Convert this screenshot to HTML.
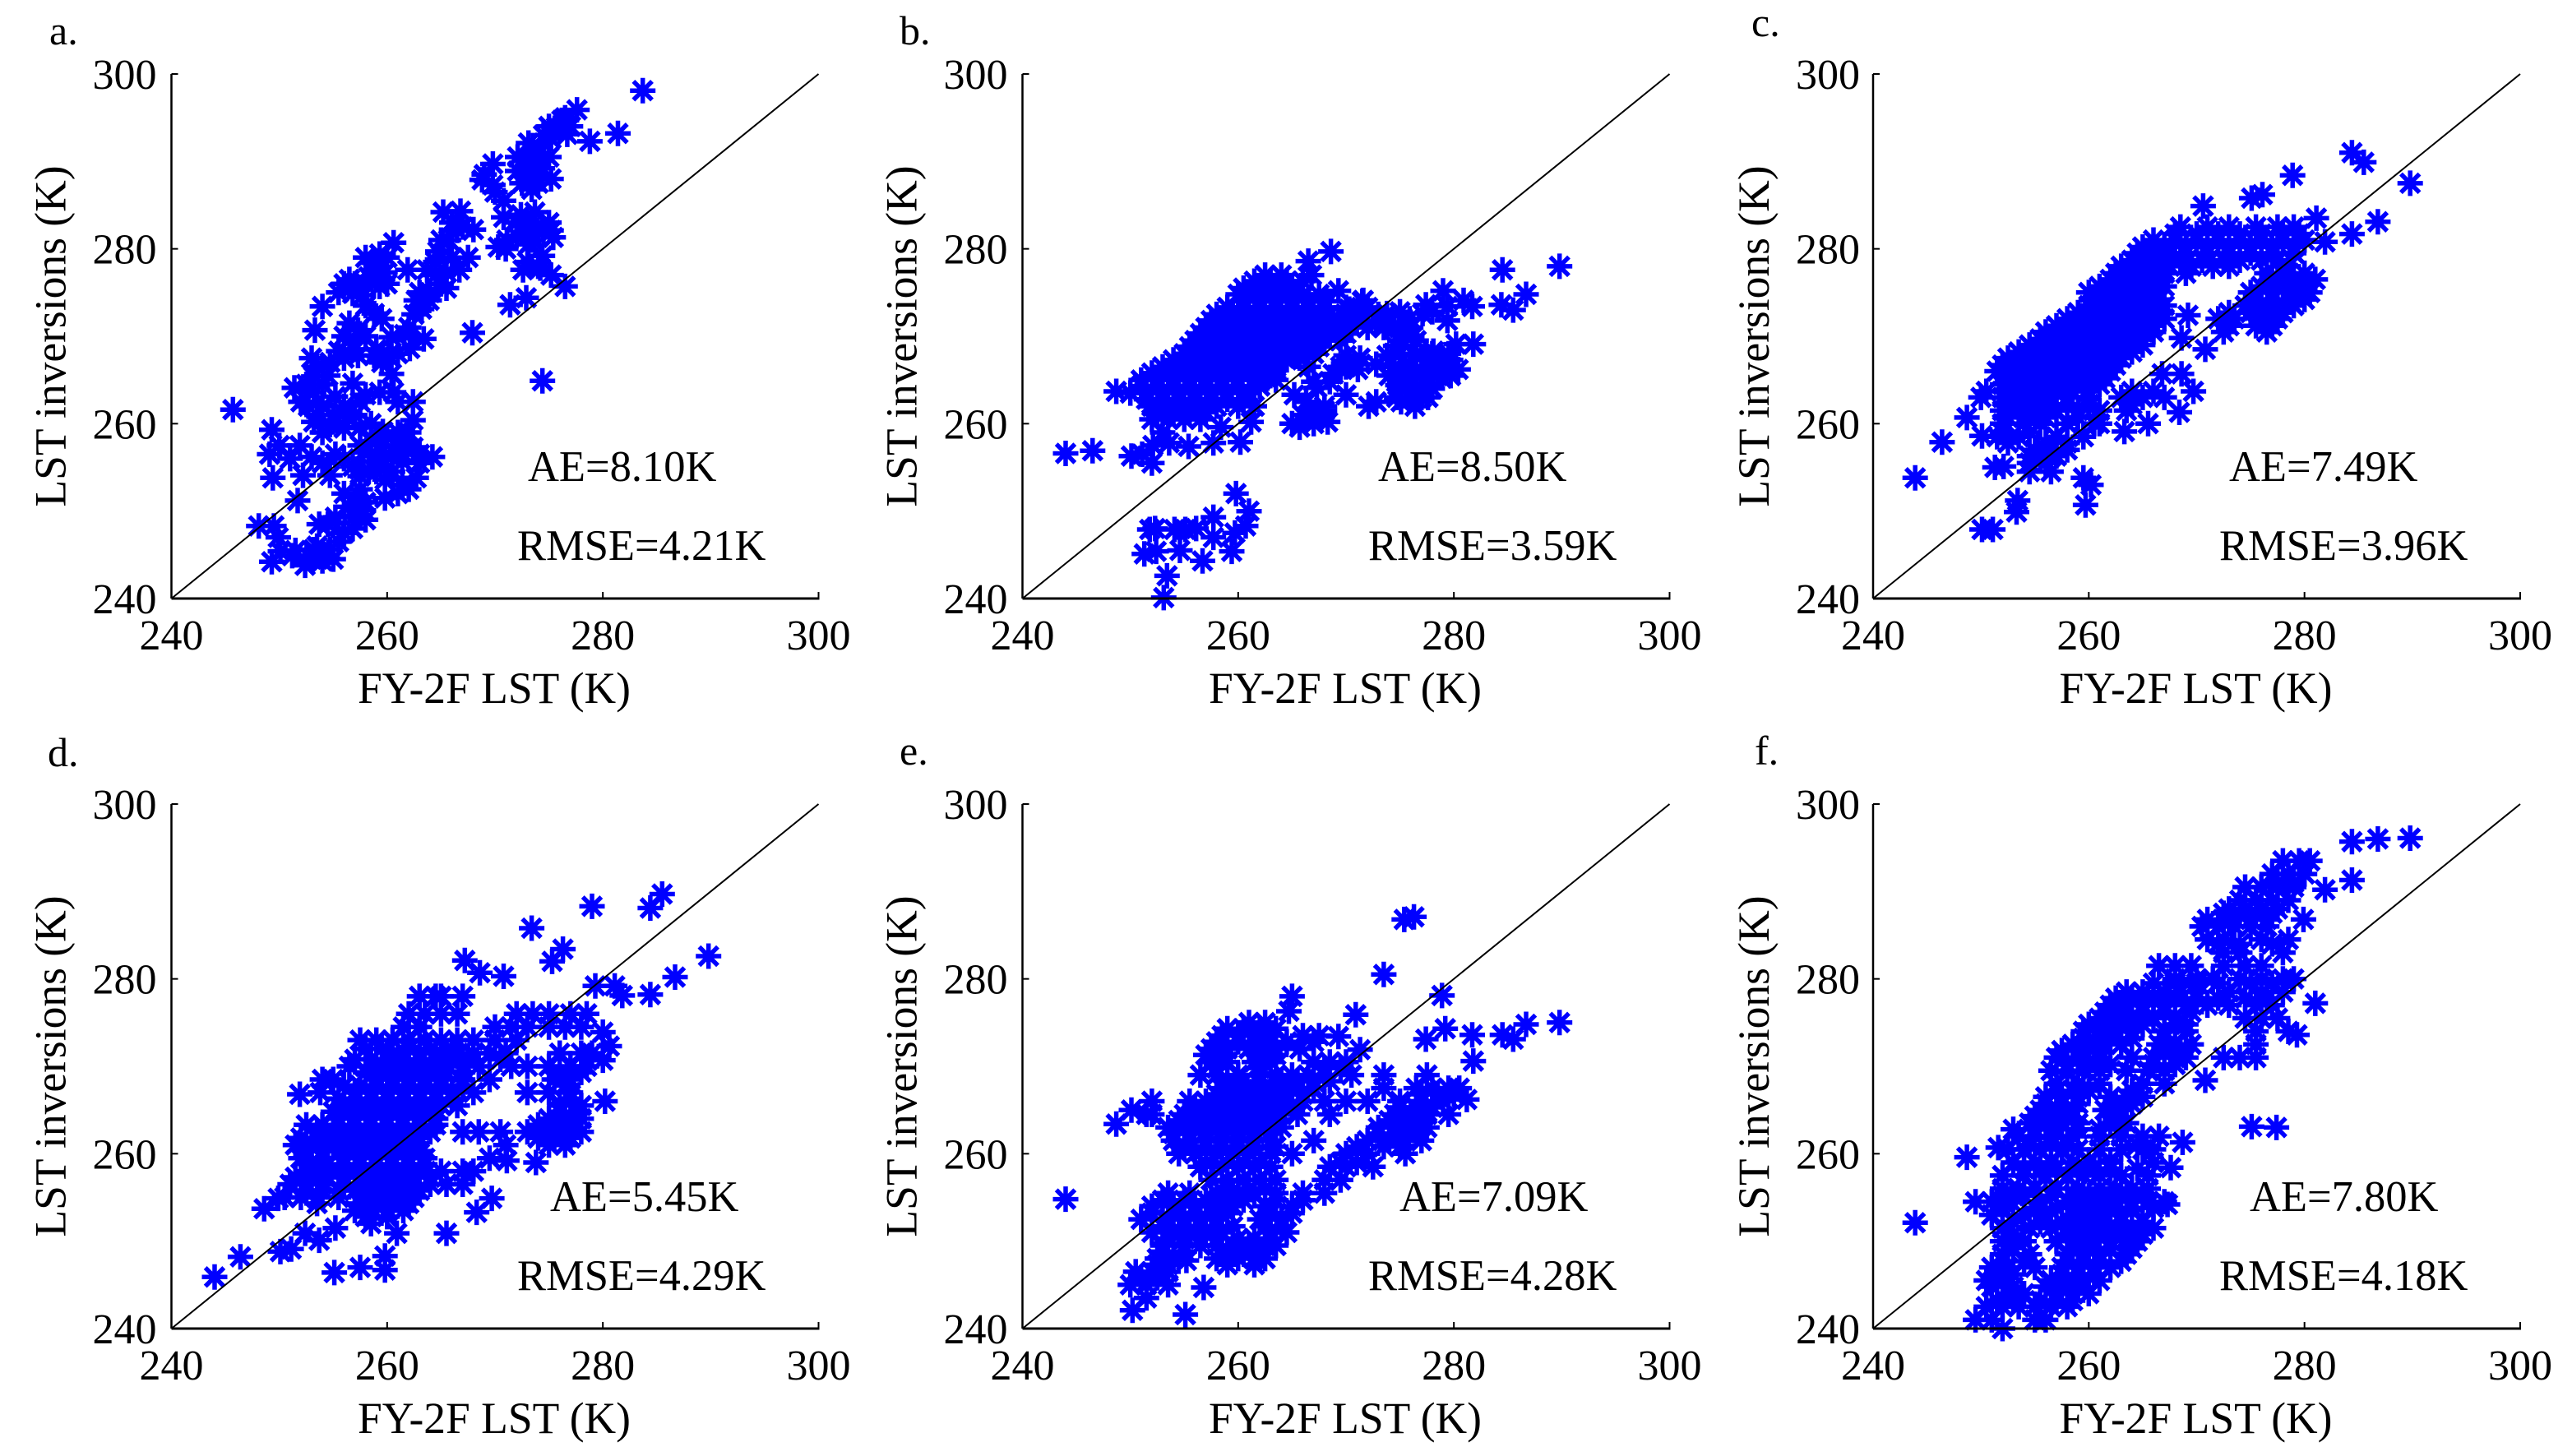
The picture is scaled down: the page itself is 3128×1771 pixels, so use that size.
<!DOCTYPE html>
<html lang="en">
<head>
<meta charset="utf-8">
<title>LST inversions vs FY-2F LST</title>
<style>
html,body{margin:0;padding:0;background:#fff;width:3128px;height:1771px;overflow:hidden}
svg{display:block}
text{font-family:"Liberation Serif","Times New Roman",serif;fill:#000}
</style>
</head>
<body>
<svg id="figure" xmlns="http://www.w3.org/2000/svg" width="3128" height="1771" viewBox="0 0 3128 1771"></svg>
<script>
const xTickValues=[240,260,280,300];
const yTickValues=[240,260,280,300];
const xAxisTitle="FY-2F LST (K)";
const yAxisTitle="LST inversions (K)";

const aPoints=[[283.7,298.1],[281.4,293.2],[278.8,292.3],[245.7,261.6],[274.4,264.9],[267.9,270.4],[276.5,275.7],[271.4,273.6],[272.9,274.4],[277.6,295.9],[276.2,294.7],[275.7,293.9],[276.7,293.1],[275.2,292.6],[274.2,291.6],[273.1,292.1],[272.1,290.5],[273.4,290],[274.4,289.2],[275.2,288],[273.1,288.1],[272.1,288.9],[273.4,286.8],[268.8,287.9],[269.8,289.7],[269.8,287.3],[270.8,285.5],[265.2,284.2],[266.8,284.3],[270.8,283.6],[272.4,283.9],[273.7,284.2],[268,282.2],[266.5,282.1],[265.7,281],[264.7,279.7],[275.2,282.1],[275.4,281.3],[273.9,282.1],[272.6,282.6],[270.3,280.2],[271.1,281],[273.1,280.5],[274.4,279.2],[274.2,277.8],[272.6,277.6],[275.2,277],[267.5,279],[266.7,277.6],[265.5,277.3],[265.5,275.5],[263.7,277.6],[261.9,277.6],[262.7,274.1],[263.9,274.1],[263.2,273.1],[260.6,280.7],[259.3,279.4],[258.8,278.4],[259.8,277.3],[258.3,276.8],[259.3,275.7],[256,276],[256.8,274.9],[257.8,274.7],[254,273.4],[258.8,272.6],[253.3,270.7],[257.3,270.7],[256.5,269.7],[260.4,269.9],[261.6,270.2],[263.4,269.7],[262.1,268.6],[255.5,268.3],[257.3,267.8],[258.8,267.8],[260.1,267.8],[253.5,266.5],[254.7,267],[260.4,265.7],[253.2,265.4],[251.4,264.1],[256.8,264.6],[253.2,263.6],[255.2,263.1],[258,263.3],[259.3,263.6],[260.6,263.6],[262.4,262.5],[252.7,262],[262.4,260.4],[253.2,260.2],[254.7,259.9],[256.3,260.7],[257.5,259.6],[259.6,259.1],[249.3,259.3],[249.1,256.5],[251.9,257.5],[253,256.2],[249.4,253.8],[252.2,254.1],[254.7,254.1],[255.2,256.5],[256.8,255.1],[257.8,256.7],[259.3,257.5],[260.9,257.5],[262.4,257.3],[264.2,256.2],[258.8,255.7],[260.4,256.2],[261.4,255.7],[258.3,254.6],[259.8,253.6],[262.7,253.8],[261.4,253],[251.7,251.2],[256,252],[257.5,252.5],[259.8,251.5],[257.8,250.1],[255.2,249.3],[253.7,248.5],[256.8,248],[248.1,248.3],[249.5,248.3],[249.9,247],[250.1,245.4],[249.3,244.2],[251.2,244.9],[252.4,243.8],[253.2,245.6],[254.7,245.6],[254,244.3],[275,294],[274.5,293],[273.5,291],[274,290],[273,289.5],[272.5,287.5],[274,287.5],[275,290.5],[276.5,295],[277,294],[269,288.5],[270,286.5],[272,283],[273,283],[274.5,282],[275,283],[272,281.5],[273,278.5],[274,278],[271,280],[273.5,281],[266,283],[267,282.5],[265,281],[264.5,278.5],[266,279],[265,276],[264.5,277],[263,275],[264,275],[262.5,272.5],[258,279],[259,278],[260,279],[257,276],[258,276],[255.5,275],[256.5,276.5],[260,276],[258,273.5],[259.5,272],[256.5,271.5],[256,270],[258,270],[262,271],[257,268.5],[259,268.5],[256,267.5],[259.5,267],[261,268],[254.5,265.5],[253,267.5],[252.5,264.5],[254,264.5],[252,262.5],[254,262],[253.5,261],[256,262],[257.5,262.5],[261,262.5],[255,261],[257,261],[258.5,260],[254,259],[256,259.5],[261,259],[262,259],[250,257.5],[251,256],[254,255.5],[256,256],[257.5,257.5],[258.5,258],[260,258.5],[261.5,258],[263,256.5],[259.5,256],[261.5,256.5],[263,255.5],[257.5,254],[259,254.5],[260.5,254.5],[261,252],[262,252.5],[256.5,250.5],[257,251],[258,251],[258,249],[257,249.5],[254.5,248.5],[256,247.5],[255.5,246.5],[253,244.5],[251.5,245.5],[253.5,246],[255,244.5]];
const aRows=[];

const bPoints=[[244,256.6],[246.5,256.9],[248.7,263.7],[289.8,278],[286.7,274.8],[284.5,277.6],[284.4,273.6],[285.5,273],[268.6,279.7],[269.3,275.2],[266.5,278.6],[266.8,277],[281.8,269.1],[281.7,273.4],[280.9,274.1],[279,275.2],[279.4,273.4],[279.4,271.8],[257.7,257.8],[258.4,259.6],[260.2,257.9],[261.2,260.2],[255.4,257.4],[253.6,257.8],[252.1,257.5],[250.1,256.3],[251.1,256.5],[252,255.5],[259.8,252],[261,250],[260.7,248.3],[259.7,247.5],[259.4,245.4],[257.7,249.3],[257.7,247],[256.1,248],[255.1,247.9],[254.1,247.9],[252.3,248],[251.8,247.9],[251.3,245.1],[252.4,245.4],[254.6,245.5],[256.7,244.3],[253.4,242.6],[253.1,240.1],[273.8,272.6],[272.8,271.8],[271.6,274.1],[270.3,273.1],[269.3,271.5],[277.4,273.6],[277.1,272.6],[275.9,272],[275.1,271],[276.1,269.9],[274.6,268.9],[270,267.8],[271.3,267.5],[268.8,265.7],[271.1,266.2],[272.8,266.8],[273.8,267.8],[280.2,269.1],[278.1,268.3],[279.7,267.3],[280.4,266.2],[278.4,266.8],[276.4,267.8],[275.4,266.8],[277,266.2],[278.9,265.2],[275.9,265.2],[277.4,264.6],[274.8,264.4],[276.1,263.6],[277.6,263],[276.4,262],[275.1,262.5],[270,263.3],[267.3,264.1],[265.2,263.3],[266.3,262.5],[272.1,262],[272.8,262.5],[268,262],[265.7,259.6],[266.8,261],[268.3,260.2],[268,261.5],[262.7,265.2],[263.5,266.2],[265.7,267.5]];
const bRows=[[277,[262.5,264]],[275.5,[260.5,262,263.5,265]],[274,[260.5,262,263.5,265,266.5,268,271.5]],[272.5,[258,259.5,261,262.5,264,265.5,267,268.5,270,271.5,273]],[271,[257,258.5,260,261.5,263,264.5,266,267.5,269,270.5,272,273.5]],[269.5,[256,257.5,259,260.5,262,263.5,265,266.5,268,269.5]],[268,[255,256.5,258,259.5,261,262.5,264,265.5,267]],[266.5,[253,254.5,256,257.5,259,260.5,262,263.5,266.5]],[265,[251,252.5,254,255.5,257,258.5,260,261.5,263.5]],[263.5,[250,251.5,253,254.5,256,257.5,259,261]],[262,[252,253.5,255,256.5,258,260,261.5]],[260.5,[252,253.5,255,256.5]],[259,[253]],[276.3,[261.5,263,264.5,266]],[274.8,[260,261.5,263,264.5,266,267.5]],[273.3,[259,260.5,262,263.5,265,266.5,268,270,272]],[271.8,[257.5,259,260.5,262,263.5,265,266.5,268,270,271]],[270.3,[256.5,258,259.5,261,262.5,264,265.5,267,268.5,270]],[268.8,[255.5,257,258.5,260,261.5,263,264.5,266,267.5]],[267.3,[254,255.5,257,258.5,260,261.5,263,264.5]],[265.8,[252,253.5,255,256.5,258,259.5,261,262.5]],[264.3,[251,252.5,254,255.5,257,258.5,260,262]],[262.8,[251.5,253,254.5,256,257.5,259,260.5]],[261.3,[252.5,254,255.5,257]],[268,[275,276.5,278,279.5]],[266.5,[274.5,276,277.5,279]],[265.5,[274,275.5,277,278.5,279.7]],[264,[275,276.5,278]],[263,[274.7,277]],[271,[274.5,276]],[272.8,[278,275]],[269.5,[275,276.5]],[261,[266,267.5]],[260,[265,267]],[264.8,[267,268.5]],[266.5,[270,269.5]]];

const cPoints=[[243.9,253.8],[246.4,257.9],[248.7,260.7],[250.1,258.6],[250.1,247.9],[251.1,247.9],[253.3,249.9],[253.4,251.2],[251.3,255],[252.1,255.1],[259.5,253.8],[260.2,253],[259.7,250.7],[284.4,291],[285.5,289.9],[289.8,287.5],[278.9,288.4],[276.1,286.2],[275.1,285.8],[270.6,284.9],[286.8,283.1],[284.4,281.7],[281.1,283.5],[281.9,280.8],[269.2,272.4],[268.6,269.8],[270.8,268.5],[269.7,263.7],[268.4,261.3],[265.5,260],[263.3,259.1],[268.6,265.7],[266.8,265.7]];
const cRows=[[282.5,[268.5,271,273,275.5,277.5,279]],[281,[266,268,270,272,274,276,278,280]],[279.5,[264.5,266,267.5,269,271,273,275,277,279]],[278,[263,264.5,266,267.5,269.5,271.5,273,278.5]],[276.5,[262,263.5,265,266.5,277,279,281]],[275,[260,261.5,263,264.5,266,275,277,279,280.5]],[273.5,[260,261.5,263,264.5,266,267,274.5,276,277.5,279]],[272,[258,259.5,261,262.5,264,265.5,267,272,273.5,276,277.5]],[270.5,[256,257.5,259,260.5,262,263.5,265,266,272.5,276.5]],[269,[254.5,256,257.5,259,260.5,262,263.5,265]],[267.5,[252.5,254,255.5,257,258.5,260,261.5,263]],[266,[251.5,253,254.5,256,257.5,259,260.5,262]],[264.5,[252,253.5,255,256.5,258,259.5,261]],[263,[250,252,253.5,255,256.5,258,260,263,265,267]],[261.5,[252,253.5,255,257,259,261,263.5]],[260,[252,254,255.5,258,260.5,261]],[258.5,[251.5,253.5,257,259.5]],[257,[255,256.5,258]],[255.5,[254.5,256]],[254.5,[254.5,256.5]],[280.2,[265,267,269,271,273,275,277,279]],[281.7,[268,270,272,274,276,278,279.5]],[278.7,[264,265.5,267,268.5,270.5,272.5,274,276,277.5]],[277.2,[262.5,264,265.5,267,269,276.5,278,280]],[275.7,[261,262.5,264,265.5,267,276,278,280]],[274.2,[260.5,262,263.5,265,266.5,275.5,277,278.5,280]],[272.7,[259,260.5,262,263.5,265,266.5,273,275,276.5,278]],[271.2,[257,258.5,260,261.5,263,264.5,266,273,275.5,277]],[269.7,[255.5,257,258.5,260,261.5,263,264.5]],[268.2,[253.5,255,256.5,258,259.5,261,262.5,264]],[266.7,[252,253.5,255,256.5,258,259.5,261,262.5]],[265.2,[252.5,254,255.5,257,258.5,260,261.5]],[263.7,[250.5,252.5,254,255.5,257,258.5,260,264,266]],[262.2,[252.5,254,256,258,260,264]],[260.7,[252.5,254.5,256,259]],[259,[252,254.5]],[257.8,[252.5,256,258]],[256.3,[254.5,255.5,257]]];

const dPoints=[[244,245.9],[246.4,248.2],[248.6,253.7],[251.9,266.8],[289.8,282.6],[286.7,280.2],[284.4,278.2],[284.4,288.1],[285.5,289.7],[279,288.3],[273.4,285.8],[276.3,283.4],[275.3,282],[267.2,282.1],[268.6,280.7],[270.8,280.3],[281.1,279.2],[281.8,278.1],[279.3,279.2],[280.2,266],[280,273.9],[280.6,272.3],[280,270.7],[273.8,259],[271.1,259.2],[269.7,254.9],[268.3,253.3],[265.5,250.9],[257.5,247],[255.1,246.4],[259.8,246.7],[259.8,248.3],[260.9,250.9],[255.2,251.5],[250.1,248.8],[251.1,249.1],[252.4,250.9],[253.7,250.1],[249.9,254.9]];
const dRows=[[278,[263,264.5,265,267]],[276,[262,263.5,265,266.5,272,273.5,275,277,278.5]],[274.5,[261.5,263,270,271.5,273,275,276.5,278]],[273,[257.5,259,260.5,262,263.5,265,266.5,268,270,272]],[271.5,[261,263,264.5,266,268,269.5,271,276,278,279]],[270,[256.5,259,260.5,262,263.5,265,267,268.5,271.5,273,275,277,278.5]],[268.5,[254,255,259,260.5,262,263.5,265,267,269.5,275.5,277]],[267,[253.8,257,258.5,260,261.5,263,264.5,266,268,273,275,277]],[265.5,[256,257.5,259,260.5,262,263.5,265,266.5,276,278]],[264,[255.5,257,258.5,260,261.5,263,264.5,275,276.5,278]],[262.5,[253.5,255,256.5,258,259.5,261,262.5,264,267,268.5,270.5,273,275,276.5,278]],[261,[251.5,253,255,256.5,258,259.5,261,262.5,271,275,276.5]],[259.5,[252,254,256,257.5,259,260.5,262,263.5,269.5]],[258,[252.5,254,255.5,257,258.5,260,261.5,263,265,267,268]],[256.5,[251,252.5,254,256,258,259.5,261,262.5,264,265.5,267]],[255,[250.5,252,253.5,255.5,258,259.5,261,262.5]],[253.5,[257,258.5,260,261.5]],[252,[258.5]],[272,[258,259.5,262,264,266]],[270.8,[257,258.5,260,261.5,263,264.5,266,267.5,270.5]],[269.3,[258,259.5,261,262.5,264,265.5,267,276,278]],[267.8,[256,257.5,259,260.5,262,263.5,265,267,276.5]],[266.3,[255.5,257,258.5,260,261.5,263,264.5,266,277]],[264.8,[255,256.5,258,259.5,261,262.5,264,276,277.5]],[263.3,[252.5,254,255.5,257,258.5,260,261.5,263,264.5,274,275.5,277]],[261.8,[252,254,255.5,257,258.5,260,261.5,263,274,275.5,277]],[260.3,[252.5,254,255.5,257,258.5,260,261.5,263]],[258.8,[253,254.5,256,257.5,259,260.5,262,263.5]],[257.3,[251.5,253,254.5,256,257.5,259,260.5,262,264]],[255.8,[252.5,254,255.5,257,258.5,260,261.5,263]],[254.3,[253.5,257.5,259,260.5,262]],[252.8,[258,260]]];

const ePoints=[[244,254.8],[248.7,263.4],[250.1,265],[289.8,275],[286.7,274.8],[284.5,273.6],[285.5,273.1],[281.7,273.6],[281.8,270.6],[281.2,266.2],[278.9,278.1],[279.2,274.3],[277.4,273.1],[273.5,280.5],[275.4,286.8],[276.3,287.1],[270.9,275.9],[269.3,273.4],[271.3,271.9],[265,278],[264.7,276.3],[265.7,272],[250.2,242.1],[255.1,241.6],[256.8,244.7],[255.2,247.8]];
const eRows=[[275,[261,262.5]],[273.5,[258.5,260,261.5,263,266,267.5]],[272,[257.5,259,261,262.5,263.5]],[270.5,[257.5,259,261.5,263,267,268.5,270]],[269,[256.5,258,260,262,263.5,265,266.5,268,270.5,273.5,277.5]],[267.5,[258.5,260,261.5,263,265,267,273.5,276.5,278,279.5,280.5]],[266,[252,255.5,257,258.5,260,261.5,263,264.5,266,268,270,272,275,277,279]],[264.5,[251.5,252,255,256.5,258,259.5,261,262.5,264,265.5,268.5,274.5,276,277.5,279.5]],[263,[253.5,255,256.5,258,259.5,261,262.5,264,273,274.5,276,277.5]],[261.5,[254,255.5,257,258.5,260,261.5,263,267,272,274,275.5,277]],[260,[254.5,256,258,259.5,261,263,265,270,272,275.5]],[258.5,[256.5,258.5,260,261.5,263,268.5,270,272.5]],[257,[257.5,259,260.5,262,263.5,268,269.5]],[255.5,[253.5,255.5,258,260,261.5,263.5,266,268]],[254,[252,254,256,258,259.5,262.5,265]],[252.5,[251,253.5,255,256.5,258,264,262]],[251,[252,254,255.5,257,258.5,263,264.5]],[249.5,[253,255,256.5,258,259.5,261,262.5,263.5]],[248,[252.5,254,258,260,261.5,262.5]],[246.5,[250.5,252,253.5]],[245,[250,251.5,253.5]],[243.5,[251.5]],[274.3,[259,260.5,262,263.5]],[272.8,[258,260,262,264.5,267]],[271.3,[257,258.5,262,263.5]],[269.8,[258,262,268,269.5]],[268.3,[259,260.5,262,264,265.5,267,268.5]],[266.8,[258,259.5,261,262.5,264,266,277,278.5,280]],[265.3,[256,257.5,259,260.5,262,263.5,265,275,276.5,278]],[263.8,[254.5,256,257.5,259,260.5,262,263.5,274,275.5,277]],[262.3,[254,255.5,257,258.5,260,261.5,263,273,275,276.5]],[260.8,[255,257,258.5,260,261.5,263.5,271,273.5,275]],[259,[257,259,260.5,262,269.5,271]],[256,[259,261,262.5]],[254.7,[253,255,257,259,260.5,263.5,266]],[253.2,[252,254.5,256,257.5,259,263,265]],[251.7,[253,255,256.5,258,259.5,262.5,264]],[250.3,[253.5,255,256.5,258,260,261.5,263]],[248.8,[253,255,259,260.5,262]],[247.3,[252.5,253.5,259,261.5]],[245.8,[251,252.5]]];

const fPoints=[[243.9,252.1],[248.7,259.6],[251.6,260.7],[284.4,295.7],[286.8,296],[289.8,296.1],[284.4,291.3],[281.9,290.2],[279.9,286.8],[281,277.2],[279.3,273.6],[275.1,263.1],[277.4,263],[268.7,261.3],[267.6,258.4],[267.3,254.2],[270.8,268.4]];
const fRows=[[293.5,[278,279.5,280.5]],[292,[277,278.5,280]],[290.5,[274.5,276,277.5,279]],[289,[274,275.5,277,278.5]],[287.5,[272.5,274,275.5,277]],[286,[270.5,272,273.5,275,276.5]],[284.5,[271,272.5,276,278.5]],[283,[272.5,274,278]],[281.5,[266.5,268,269.5,272.5,274.5,276]],[280,[268,270,271.5,274,276,278,279]],[278.5,[263.5,265,267,268.5,270,273,276,278]],[277,[262,263.5,265,267,269,271,273,275.5,277]],[275.5,[261,262.5,264,266,268,274.5,276,277.5]],[274,[259.5,261,262.5,264,267,269,275.5,278.5]],[272.5,[258.5,260,261,263,266.5,268,269.5,275.5]],[271,[257,259,261,264,266,268,269,272.5,274,275.5]],[269.5,[256.5,258,259.5,261,263.5,265.5,267]],[268,[257,259,261,265,267]],[266.5,[256,257.5,259,262,263.5,265]],[265,[255.5,257,258.5,261.5,263]],[263.5,[254.5,256,257.5,259,262,263.5]],[262,[253.5,255,256.5,258.5,261,263,265,266.5]],[260.5,[252.5,254,255.5,257.5,259,261,263,265,266]],[259,[253,255,256.5,258.5,260,262,266]],[257.5,[252,254,256,258,259.5,261,263,265.5]],[256,[252,253.5,255,257,259,261,262.5,264,265.5]],[254.5,[249.5,251,252,255.5,258,259.5,261,262.5,264,265.5,267]],[253,[251,254,256,258.5,260,261.5,263]],[251.5,[252,254.5,256.5,258.5,260,262,264,266]],[250,[252,254,257,259,260.5,262,263.5,264.5]],[248.5,[252,254.5,258,259.5,261,263.5]],[247,[251,252.5,255,257.5,259,260.5,262]],[245.5,[250.5,252,256.5,258,259.5,261]],[244,[252.5,254,257,258.5,260]],[242.5,[250.5,252,253.5,255,256.5,258]],[241,[249.5,251,255,256]],[240,[252]],[291,[277.5,279]],[288,[273,274.5,276,277.5]],[286.8,[271,273,275,276.5]],[284,[272,274,277]],[279.5,[266,268,270,272,275,277]],[277.8,[262.5,264,266,268,270,272,274.5,276.5]],[276.2,[261.5,263,265,267,269.5]],[274.8,[260,261.5,263,265,268,269]],[273.2,[259.5,261,262,264,267]],[271.8,[257.5,259.5,261,267,268.5]],[270.2,[258,260,262,266,268]],[267.2,[257,258.5,260,264]],[265.7,[256,257.5,259,262.5,264]],[264.3,[255,256.5,258,262.5]],[262.8,[253,255,257,259,261,263]],[261,[254.5,256.5,258,264.5]],[258.3,[254,255.5,257,259,260.5,262,264.5]],[255.2,[252,253,254,256.5,258.5,260,262,263.5,265]],[253.8,[252,255,257,259,260.5,262,264,266]],[252.2,[253,255.5,257.5,259.5,261,263,265]],[250.8,[253,258,259.5,261,263,265]],[249.2,[253,258.5,260,262,264]],[247.7,[252,254,258,259.5,261,263]],[246.2,[251.5,253,257.5,259,260.5]],[244.8,[251,253,256,257.5,259]],[243.2,[251.5,253,255.5,257,258.5]]];

const panels=[
 {id:"a",label:"a.",ae:"AE=8.10K",rmse:"RMSE=4.21K",pts:aPoints,rows:aRows,left:208.5,bottom:728,labelX:60,labelY:54,aeX:642,rmseX:629,yTitleGap:129,yTickGap:18},
 {id:"b",label:"b.",ae:"AE=8.50K",rmse:"RMSE=3.59K",pts:bPoints,rows:bRows,left:1243.5,bottom:728,labelX:1094,labelY:54,aeX:1676,rmseX:1664,yTitleGap:129,yTickGap:18},
 {id:"c",label:"c.",ae:"AE=7.49K",rmse:"RMSE=3.96K",pts:cPoints,rows:cRows,left:2278,bottom:728,labelX:2130,labelY:44,aeX:2711,rmseX:2699,yTitleGap:127,yTickGap:16},
 {id:"d",label:"d.",ae:"AE=5.45K",rmse:"RMSE=4.29K",pts:dPoints,rows:dRows,left:208.5,bottom:1616,labelX:58,labelY:932,aeX:669,rmseX:629,yTitleGap:129,yTickGap:18},
 {id:"e",label:"e.",ae:"AE=7.09K",rmse:"RMSE=4.28K",pts:ePoints,rows:eRows,left:1243.5,bottom:1616,labelX:1094,labelY:930,aeX:1702,rmseX:1664,yTitleGap:129,yTickGap:18},
 {id:"f",label:"f.",ae:"AE=7.80K",rmse:"RMSE=4.18K",pts:fPoints,rows:fRows,left:2278,bottom:1616,labelX:2134,labelY:930,aeX:2736,rmseX:2699,yTitleGap:127,yTickGap:16}
];

const NS="http://www.w3.org/2000/svg";
const svg=document.getElementById("figure");
const PLOT_W=787,PLOT_H=638,DOMAIN_MIN=240,DOMAIN_MAX=300,FONT=52,TITLE_FONT=53.5,NOTE_FONT=52.5;
const STAR="M-15.5 0H15.5M0-15.5V15.5M-11.3-11.3L11.3 11.3M-11.3 11.3L11.3-11.3";

function make(parent,tag,attrs,content){
  const el=document.createElementNS(NS,tag);
  for(const k in attrs)el.setAttribute(k,attrs[k]);
  if(content!==undefined)el.textContent=content;
  parent.appendChild(el);
  return el;
}

panels.forEach(function(p){
  const sx=function(v){return p.left+(v-DOMAIN_MIN)/(DOMAIN_MAX-DOMAIN_MIN)*PLOT_W;};
  const sy=function(v){return p.bottom-(v-DOMAIN_MIN)/(DOMAIN_MAX-DOMAIN_MIN)*PLOT_H;};
  const top=sy(DOMAIN_MAX),right=sx(DOMAIN_MAX);

  const g=make(svg,"g",{});
  
  

  const tag=make(g,"text",{x:p.labelX,y:p.labelY,"font-size":50},p.label);
  
  

  const series=make(g,"g",{fill:"none",stroke:"#0000ff","stroke-width":5.5});
  
  

  const all=p.pts.slice();
  p.rows.forEach(function(r){r[1].forEach(function(x){all.push([x,r[0]]);});});
  all.forEach(function(pt){
    const m=make(series,"path",{d:STAR,transform:"translate("+sx(pt[0]).toFixed(1)+" "+sy(pt[1]).toFixed(1)+")"});
    
    
  });

  const diag=make(g,"line",{x1:sx(DOMAIN_MIN),y1:sy(DOMAIN_MIN),x2:sx(DOMAIN_MAX),y2:sy(DOMAIN_MAX),stroke:"#000","stroke-width":2});
  
  

  const yAxis=make(g,"line",{x1:p.left,y1:top,x2:p.left,y2:p.bottom,stroke:"#000","stroke-width":2.5});
  
  

  const xAxis=make(g,"line",{x1:p.left,y1:p.bottom,x2:right+1,y2:p.bottom,stroke:"#000","stroke-width":3});
  
  

  xTickValues.forEach(function(v){
    const t=make(g,"line",{x1:sx(v),y1:p.bottom,x2:sx(v),y2:p.bottom-8,stroke:"#000","stroke-width":2});
    
    
    const l=make(g,"text",{x:sx(v),y:p.bottom+62,"font-size":FONT,"text-anchor":"middle"},String(v));
    
    
  });
  yTickValues.forEach(function(v){
    const t=make(g,"line",{x1:p.left,y1:sy(v),x2:p.left+8,y2:sy(v),stroke:"#000","stroke-width":2});
    
    
    const l=make(g,"text",{x:p.left-p.yTickGap,y:sy(v)+18,"font-size":FONT,"text-anchor":"end"},String(v));
    
    
  });

  const xt=make(g,"text",{x:p.left+PLOT_W/2-1,y:p.bottom+127,"font-size":TITLE_FONT,"text-anchor":"middle"},xAxisTitle);
  
  

  const yx=p.left-p.yTitleGap,yy=(top+p.bottom)/2;
  const yt=make(g,"text",{x:yx,y:yy,"font-size":TITLE_FONT,"text-anchor":"middle",transform:"rotate(-90 "+yx+" "+yy+")"},yAxisTitle);
  
  

  const ae=make(g,"text",{x:p.aeX,y:p.bottom-143,"font-size":NOTE_FONT},p.ae);
  
  

  const rm=make(g,"text",{x:p.rmseX,y:p.bottom-47,"font-size":NOTE_FONT},p.rmse);
  
  
});
</script>
</body>
</html>
